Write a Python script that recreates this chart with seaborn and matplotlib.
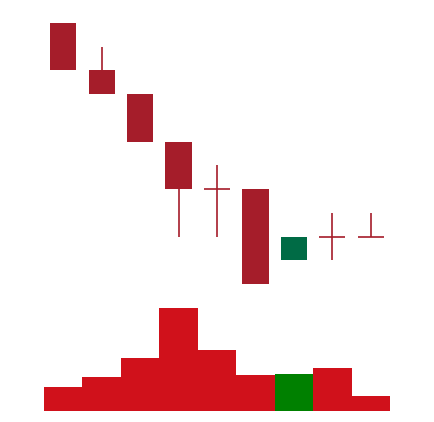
import numpy as np
import pandas as pd
import matplotlib
matplotlib.use('Agg')
import matplotlib.pyplot as plt
import seaborn as sns

# 캔들 데이터
days = list(range(9))
opens = [12, 10, 9, 7, 5, 5, 2, 3, 3]
closes = [10, 9, 7, 5, 5, 1, 3, 3, 3]
highs = [12, 11, 9, 7, 6, 5, 3, 4, 4]
lows = [10, 9, 7, 3, 3, 1, 2, 2, 3]
volumes = [24, 34, 53, 103, 61, 36, 37, 43, 15]

up_color = '#006b45'
down_color = '#a51d2a'
vol_up = '#008000'
vol_down = '#d0111b'

sns.set_style('white')
fig = plt.figure(figsize=(4.34, 4.22), dpi=100)
ax = fig.add_axes([0.1014, 0.3270, 0.7972, 0.6185])
ax_v = fig.add_axes([0.1014, 0.0261, 0.7972, 0.2440])

body_w = 0.68
for i in days:
    o, c, h, l = opens[i], closes[i], highs[i], lows[i]
    col = up_color if c > o else down_color
    ax.vlines(i, l, h, color=col, linewidth=1.2)
    if o == c:
        ax.hlines(o, i - body_w / 2, i + body_w / 2, color=col, linewidth=1.2)
    else:
        ax.bar(i, abs(c - o), bottom=min(o, c), width=body_w, color=col, linewidth=0)

ax.set_xlim(-0.5, 8.5)
ax.set_ylim(1, 12)
ax.axis('off')

df = pd.DataFrame({'day': days, 'volume': volumes})
vcolors = [vol_up if closes[i] > opens[i] else vol_down for i in days]
sns.barplot(data=df, x='day', y='volume', hue='day', palette=vcolors,
            width=1.0, saturation=1, linewidth=0, legend=False, ax=ax_v)
ax_v.set_xlim(-0.5, 8.5)
ax_v.set_ylim(0, 103)
ax_v.axis('off')

fig.savefig('out.png', dpi=100)
